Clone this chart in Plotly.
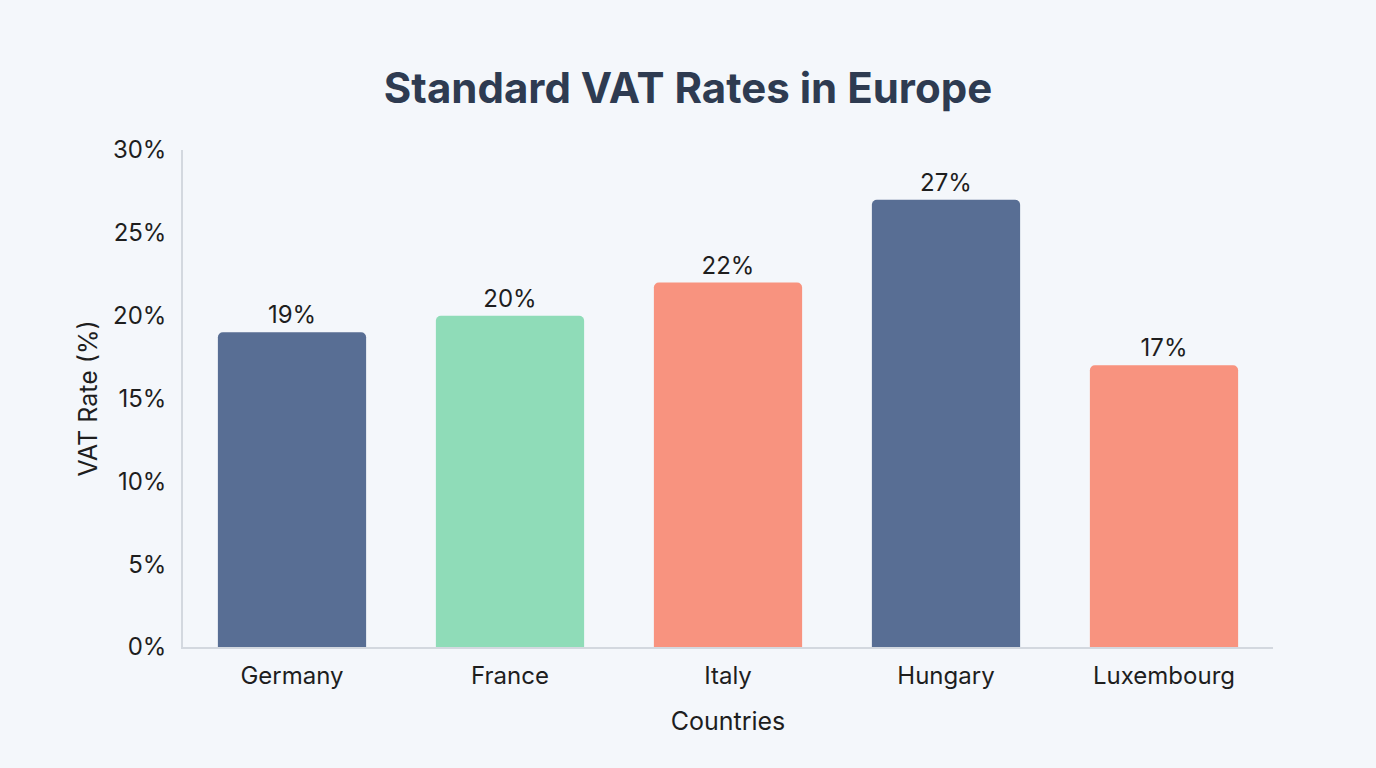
import plotly.graph_objects as go

countries = ["Germany", "France", "Italy", "Hungary", "Luxembourg"]
vat_rates = [19, 20, 22, 27, 17]
bar_colors = ["#586e94", "#8fdcb8", "#f8937f", "#586e94", "#f8937f"]
y_ticks = [0, 5, 10, 15, 20, 25, 30]
y_tick_labels = ["0%", "5%", "10%", "15%", "20%", "25%", "30%"]

fig = go.Figure(
    go.Bar(
        x=countries,
        y=vat_rates,
        marker=dict(color=bar_colors, cornerradius=5, line=dict(width=0)),
        text=[f"{v}%" for v in vat_rates],
        textposition="outside",
        textfont=dict(family="Inter", size=24, color="#1e1e1e"),
        cliponaxis=False,
        hoverinfo="skip",
    )
)

fig.update_layout(
    width=1376,
    height=768,
    paper_bgcolor="#f4f7fb",
    plot_bgcolor="#f4f7fb",
    margin=dict(l=183, r=103, t=150, b=121),
    bargap=0.32,
    showlegend=False,
    font=dict(family="Inter", color="#1e1e1e"),
    title=dict(
        text="<b>Standard VAT Rates in Europe</b>",
        x=0.5,
        xanchor="center",
        y=0.885,
        yanchor="middle",
        font=dict(family="Inter", size=42, color="#2e3b51"),
    ),
    xaxis=dict(
        title=dict(text="Countries", font=dict(size=25, color="#1e1e1e"), standoff=24),
        tickfont=dict(size=24, color="#1e1e1e"),
        showline=True,
        linecolor="#d3d8df",
        linewidth=1.5,
        showgrid=False,
        ticks="",
        ticklabelstandoff=6,
    ),
    yaxis=dict(
        title=dict(text="VAT Rate (%)", font=dict(size=25, color="#1e1e1e"), standoff=8),
        tickfont=dict(size=24, color="#1e1e1e"),
        range=[0, 30],
        tickvals=y_ticks,
        ticktext=y_tick_labels,
        showline=True,
        linecolor="#d3d8df",
        linewidth=1.5,
        showgrid=False,
        zeroline=False,
        ticks="",
        ticklabelstandoff=10,
    ),
)

fig.write_html(
    "out.html",
    config={"displayModeBar": False},
    post_script="document.body.style.margin='0';document.body.style.background='#f4f7fb';",
)
